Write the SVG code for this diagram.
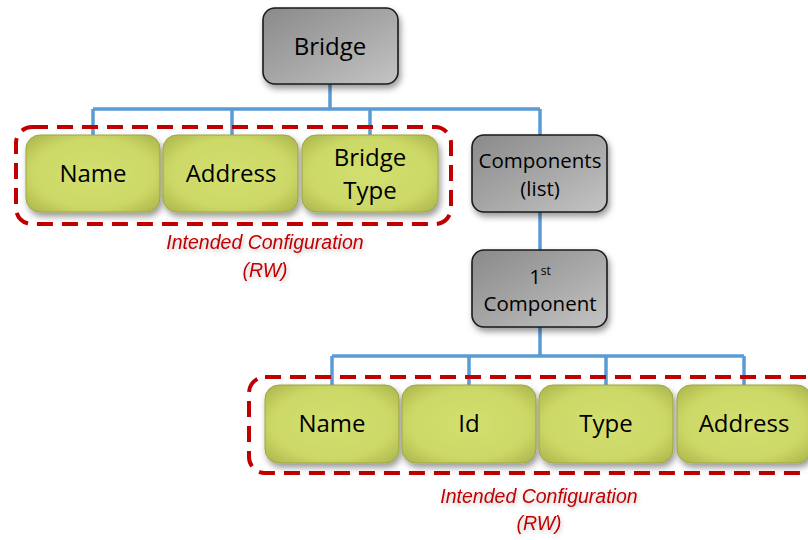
<svg xmlns="http://www.w3.org/2000/svg" width="808" height="540" viewBox="0 0 808 540">
  <defs>
    <linearGradient id="gray" x1="0" y1="0" x2="1" y2="1">
      <stop offset="0" stop-color="#8a8a8a"/>
      <stop offset="0.5" stop-color="#a6a6a6"/>
      <stop offset="1" stop-color="#c4c4c4"/>
    </linearGradient>
    <radialGradient id="green" cx="0.5" cy="0.5" r="0.75">
      <stop offset="0" stop-color="#d3df6f"/>
      <stop offset="0.6" stop-color="#ccd866"/>
      <stop offset="1" stop-color="#a2ab45"/>
    </radialGradient>
    <filter id="shadow" x="-20%" y="-20%" width="140%" height="150%">
      <feDropShadow dx="2" dy="4" stdDeviation="3" flood-color="#000" flood-opacity="0.4"/>
    </filter>
    <filter id="glow" x="-10%" y="-30%" width="120%" height="160%">
      <feDropShadow dx="1" dy="2" stdDeviation="2" flood-color="#000" flood-opacity="0.25"/>
    </filter>
  </defs>
  <style>
    .conn { stroke: #5b9bd5; stroke-width: 3.5; fill: none; }
    .dash { stroke: #c00000; stroke-width: 4; fill: none; stroke-dasharray: 16 9; }
    .gbox { fill: url(#gray); stroke: #1a1a1a; stroke-width: 1.6; filter: url(#shadow); }
    .ybox { fill: url(#green); stroke: #9da642; stroke-width: 1; filter: url(#shadow); }
    .t { font-family: "Open Sans", "Liberation Sans", sans-serif; fill: #000; text-anchor: middle; }
    .big { font-size: 24px; }
    .mid { font-size: 20.5px; }
    .note { font-family: "Liberation Sans", "Open Sans", sans-serif; font-style: italic; font-size: 19.5px; fill: #c00000; text-anchor: middle; filter: url(#glow); }
  </style>

  <g id="connectors">
    <path class="conn" d="M330 84 V109 M93 109 H540 M93 109 V135 M232 109 V135 M370 109 V135 M540 109 V135"/>
    <path class="conn" d="M540 212 V250"/>
    <path class="conn" d="M540 327 V356 M332 356 H744 M332 356 V385 M469 356 V385 M606 356 V385 M744 356 V385"/>
  </g>

  <g id="group-top">
    <rect class="dash" x="16" y="127" width="435" height="97" rx="16"/>
    <text class="note" x="265" y="249">Intended Configuration</text>
    <text class="note" x="265" y="277">(RW)</text>
  </g>
  <g id="group-bottom">
    <rect class="dash" x="249" y="377" width="580" height="96" rx="16"/>
    <text class="note" x="539" y="503">Intended Configuration</text>
    <text class="note" x="539" y="530">(RW)</text>
  </g>

  <g id="bridge">
    <rect class="gbox" x="263" y="8" width="135" height="76" rx="12"/>
    <text class="t big" x="330" y="55">Bridge</text>
  </g>

  <g id="name-top">
    <rect class="ybox" x="26" y="135" width="134" height="77" rx="14"/>
    <text class="t big" x="93" y="182">Name</text>
  </g>
  <g id="address-top">
    <rect class="ybox" x="163" y="135" width="135" height="77" rx="14"/>
    <text class="t big" x="231" y="182">Address</text>
  </g>
  <g id="bridge-type">
    <rect class="ybox" x="302" y="135" width="136" height="77" rx="14"/>
    <text class="t big" x="370" y="166">Bridge</text>
    <text class="t big" x="370" y="199">Type</text>
  </g>

  <g id="components">
    <rect class="gbox" x="472" y="135" width="135" height="77" rx="12"/>
    <text class="t mid" x="540" y="168">Components</text>
    <text class="t mid" x="540" y="196">(list)</text>
  </g>

  <g id="first-component">
    <rect class="gbox" x="472" y="250" width="135" height="77" rx="12"/>
    <text class="t mid" x="540" y="284">1<tspan font-size="12" dy="-9">st</tspan></text>
    <text class="t mid" x="540" y="311">Component</text>
  </g>

  <g id="name-bottom">
    <rect class="ybox" x="265" y="385" width="134" height="78" rx="14"/>
    <text class="t big" x="332" y="432">Name</text>
  </g>
  <g id="id">
    <rect class="ybox" x="402" y="385" width="134" height="78" rx="14"/>
    <text class="t big" x="469" y="432">Id</text>
  </g>
  <g id="type">
    <rect class="ybox" x="539" y="385" width="134" height="78" rx="14"/>
    <text class="t big" x="606" y="432">Type</text>
  </g>
  <g id="address-bottom">
    <rect class="ybox" x="677" y="385" width="134" height="78" rx="14"/>
    <text class="t big" x="744" y="432">Address</text>
  </g>
</svg>
